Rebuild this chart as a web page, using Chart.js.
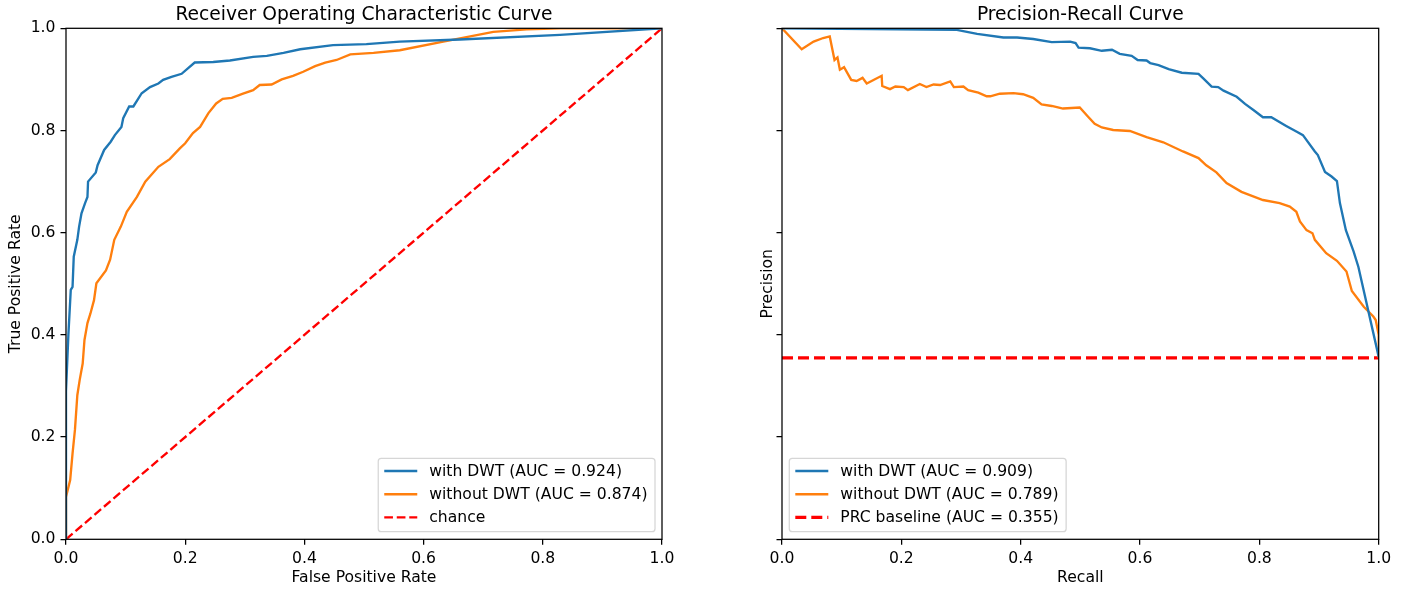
<!DOCTYPE html>
<html>
<head>
<meta charset="utf-8">
<script src="https://cdn.jsdelivr.net/npm/chart.js@4.4.0/dist/chart.umd.min.js"></script>
<style>
  body { margin: 0; background: #fff; }
  canvas { position: absolute; top: 0; }
</style>
</head>
<body>
<canvas id="roc" width="700" height="592" style="left:0"></canvas>
<canvas id="prc" width="707" height="592" style="left:700px"></canvas>
<script>
// ROC curve, with DWT
const rocWithFpr = [0, 0, 0.004, 0.008, 0.011, 0.013, 0.019, 0.022, 0.026, 0.032, 0.036, 0.037, 0.050, 0.053, 0.064, 0.075, 0.082, 0.093, 0.096, 0.106, 0.113, 0.127, 0.141, 0.155, 0.163, 0.177, 0.194, 0.205, 0.216, 0.247, 0.275, 0.314, 0.337, 0.365, 0.393, 0.448, 0.504, 0.560, 0.661, 0.829, 1];
const rocWithTpr = [0, 0.29, 0.40, 0.488, 0.494, 0.553, 0.586, 0.612, 0.638, 0.658, 0.670, 0.700, 0.718, 0.732, 0.762, 0.778, 0.791, 0.807, 0.824, 0.847, 0.847, 0.873, 0.885, 0.892, 0.899, 0.905, 0.911, 0.922, 0.933, 0.934, 0.937, 0.944, 0.946, 0.952, 0.959, 0.967, 0.969, 0.974, 0.978, 0.987, 1];

// ROC curve, without DWT
const rocWithoutFpr = [0, 0, 0.007, 0.011, 0.015, 0.019, 0.023, 0.028, 0.031, 0.036, 0.041, 0.047, 0.051, 0.067, 0.074, 0.081, 0.092, 0.102, 0.119, 0.133, 0.155, 0.174, 0.191, 0.200, 0.213, 0.225, 0.239, 0.252, 0.263, 0.278, 0.297, 0.314, 0.325, 0.345, 0.362, 0.381, 0.398, 0.418, 0.435, 0.454, 0.477, 0.516, 0.560, 0.633, 0.717, 0.773, 0.83, 1];
const rocWithoutTpr = [0, 0.083, 0.116, 0.168, 0.214, 0.282, 0.312, 0.344, 0.390, 0.423, 0.442, 0.468, 0.501, 0.526, 0.547, 0.586, 0.612, 0.641, 0.670, 0.700, 0.729, 0.744, 0.765, 0.775, 0.795, 0.807, 0.834, 0.853, 0.862, 0.864, 0.872, 0.879, 0.889, 0.890, 0.900, 0.907, 0.915, 0.926, 0.933, 0.938, 0.949, 0.952, 0.957, 0.974, 0.993, 0.998, 1, 1];

// PR curve, with DWT
const prWithRecall = [0, 0.293, 0.327, 0.371, 0.394, 0.421, 0.452, 0.483, 0.492, 0.497, 0.516, 0.536, 0.553, 0.566, 0.586, 0.596, 0.611, 0.617, 0.631, 0.648, 0.670, 0.698, 0.706, 0.720, 0.731, 0.740, 0.762, 0.776, 0.790, 0.806, 0.820, 0.845, 0.862, 0.873, 0.893, 0.898, 0.910, 0.921, 0.930, 0.935, 0.945, 0.958, 0.966, 0.971, 1.0];
const prWithPrecision = [1.0, 0.997, 0.989, 0.982, 0.982, 0.979, 0.973, 0.974, 0.971, 0.962, 0.961, 0.956, 0.958, 0.950, 0.946, 0.938, 0.937, 0.932, 0.928, 0.920, 0.913, 0.911, 0.902, 0.886, 0.885, 0.878, 0.866, 0.852, 0.840, 0.826, 0.826, 0.809, 0.798, 0.791, 0.759, 0.752, 0.719, 0.710, 0.701, 0.658, 0.605, 0.563, 0.533, 0.507, 0.357];

// PR curve, without DWT
const prWithoutRecall = [0, 0.033, 0.053, 0.069, 0.080, 0.088, 0.093, 0.097, 0.104, 0.116, 0.125, 0.135, 0.142, 0.167, 0.168, 0.181, 0.190, 0.204, 0.211, 0.231, 0.242, 0.254, 0.265, 0.282, 0.288, 0.304, 0.312, 0.329, 0.343, 0.349, 0.365, 0.388, 0.404, 0.421, 0.435, 0.452, 0.471, 0.499, 0.513, 0.524, 0.536, 0.555, 0.583, 0.611, 0.639, 0.672, 0.698, 0.711, 0.728, 0.745, 0.770, 0.806, 0.834, 0.851, 0.862, 0.868, 0.879, 0.889, 0.893, 0.912, 0.930, 0.946, 0.955, 0.975, 0.991, 0.995, 1.0, 1.0];
const prWithoutPrecision = [1.0, 0.959, 0.974, 0.981, 0.984, 0.938, 0.943, 0.919, 0.924, 0.899, 0.897, 0.903, 0.892, 0.907, 0.887, 0.881, 0.886, 0.885, 0.879, 0.891, 0.885, 0.890, 0.889, 0.896, 0.885, 0.886, 0.879, 0.874, 0.867, 0.867, 0.872, 0.873, 0.871, 0.864, 0.851, 0.848, 0.843, 0.845, 0.827, 0.813, 0.806, 0.801, 0.799, 0.787, 0.777, 0.759, 0.746, 0.732, 0.718, 0.697, 0.680, 0.664, 0.658, 0.651, 0.641, 0.622, 0.605, 0.599, 0.586, 0.560, 0.545, 0.524, 0.486, 0.455, 0.436, 0.429, 0.40, 0.355];

// reference lines
const chanceX = [0, 1];
const chanceY = [0, 1];
const baselineX = [0, 1];
const baselineY = [0.355, 0.355];

const BLUE = '#1f77b4';
const ORANGE = '#ff7f0e';
const RED = '#ff0000';
const FONT = 15.6;

Chart.defaults.font.family = '"DejaVu Sans", sans-serif';
Chart.defaults.font.size = FONT;
Chart.defaults.color = '#000';

const pts = (xs, ys) => xs.map((x, i) => ({ x: x, y: ys[i] }));

const line = (label, xs, ys, color, width, dash) => ({
  label: label,
  data: pts(xs, ys),
  showLine: true,
  borderColor: color,
  backgroundColor: color,
  borderWidth: width,
  borderDash: dash || [],
  pointRadius: 0,
  tension: 0,
  fill: false
});

// box round the plot area, like matplotlib spines
const frame = {
  id: 'frame',
  afterDatasetsDraw(chart) {
    const { ctx, chartArea: a } = chart;
    ctx.save();
    ctx.strokeStyle = '#000';
    ctx.lineWidth = 1.26;
    ctx.strokeRect(a.left, a.top, a.right - a.left, a.bottom - a.top);
    ctx.restore();
  }
};

// title centred over the plot area, not the whole canvas
const plotTitle = {
  id: 'plotTitle',
  afterDraw(chart, args, opts) {
    const { ctx, chartArea: a } = chart;
    ctx.save();
    ctx.font = '18.7px "DejaVu Sans"';
    ctx.fillStyle = '#000';
    ctx.textAlign = 'center';
    ctx.textBaseline = 'alphabetic';
    ctx.fillText(opts.text, (a.left + a.right) / 2, a.top - 8.8);
    ctx.restore();
  }
};

// legend drawn inside the plot area
const boxLegend = {
  id: 'boxLegend',
  afterDraw(chart, args, opts) {
    const { ctx, chartArea: a } = chart;
    const sets = chart.data.datasets;
    ctx.save();
    ctx.font = FONT + 'px "DejaVu Sans"';
    const textW = Math.max(...sets.map(d => ctx.measureText(d.label).width));
    const w = 6 + 33 + 12 + textW + 7.5;
    const h = 73.4;
    const x = opts.side === 'right' ? a.right - 7 - w : a.left + 7.3;
    const y = a.bottom - 7.6 - h;
    ctx.beginPath();
    ctx.roundRect(x, y, w, h, 3);
    ctx.fillStyle = 'rgba(255,255,255,0.8)';
    ctx.fill();
    ctx.strokeStyle = 'rgba(204,204,204,0.8)';
    ctx.lineWidth = 1.26;
    ctx.stroke();
    sets.forEach((d, i) => {
      const cy = y + 12.7 + i * 23.2;
      ctx.beginPath();
      ctx.setLineDash(d.borderDash);
      ctx.strokeStyle = d.borderColor;
      ctx.lineWidth = d.borderWidth;
      ctx.moveTo(x + 6, cy);
      ctx.lineTo(x + 39, cy);
      ctx.stroke();
      ctx.setLineDash([]);
      ctx.fillStyle = '#000';
      ctx.textBaseline = 'middle';
      ctx.fillText(d.label, x + 51, cy + 1);
    });
    ctx.restore();
  }
};

function scales(xTitle, yTitle, yWidth, yTitlePad, showYLabels) {
  const tickGrid = { display: true, drawOnChartArea: false, drawTicks: true, tickLength: 5.5, color: '#000', lineWidth: 1.26 };
  return {
    x: {
      type: 'linear', min: 0, max: 1,
      grid: tickGrid,
      border: { display: false },
      ticks: { stepSize: 0.2, padding: 4.5, maxRotation: 0, autoSkip: false, callback: v => v.toFixed(1) },
      title: { display: true, text: xTitle, padding: { top: 0, bottom: 4.6 } },
      afterFit: s => { s.height = 52.7; s.paddingLeft = 0; s.paddingRight = 0; }
    },
    y: {
      type: 'linear', min: 0, max: 1,
      grid: tickGrid,
      border: { display: false },
      ticks: { stepSize: 0.2, padding: 5, autoSkip: false, callback: v => showYLabels ? v.toFixed(1) : '' },
      title: { display: true, text: yTitle, padding: { top: yTitlePad, bottom: 0 } },
      afterFit: s => { s.width = yWidth; s.paddingTop = 0; s.paddingBottom = 0; }
    }
  };
}

function plugins(title, side) {
  return {
    legend: { display: false },
    tooltip: { enabled: false },
    title: { display: false },
    plotTitle: { text: title },
    boxLegend: { side: side }
  };
}

new Chart(document.getElementById('roc'), {
  type: 'scatter',
  data: {
    datasets: [
      line('with DWT (AUC = 0.924)', rocWithFpr, rocWithTpr, BLUE, 2.35),
      line('without DWT (AUC = 0.874)', rocWithoutFpr, rocWithoutTpr, ORANGE, 2.35),
      line('chance', chanceX, chanceY, RED, 2.35, [8.7, 3.8])
    ]
  },
  options: {
    responsive: false,
    animation: false,
    devicePixelRatio: 1,
    layout: { padding: { left: 0, right: 38, top: 28.3, bottom: 0 } },
    scales: scales('False Positive Rate', 'True Positive Rate', 66, 6.1, true),
    plugins: plugins('Receiver Operating Characteristic Curve', 'right')
  },
  plugins: [frame, plotTitle, boxLegend]
});

new Chart(document.getElementById('prc'), {
  type: 'scatter',
  data: {
    datasets: [
      line('with DWT (AUC = 0.909)', prWithRecall, prWithPrecision, BLUE, 2.35),
      line('without DWT (AUC = 0.789)', prWithoutRecall, prWithoutPrecision, ORANGE, 2.35),
      line('PRC baseline (AUC = 0.355)', baselineX, baselineY, RED, 3.14, [11, 5])
    ]
  },
  options: {
    responsive: false,
    animation: false,
    devicePixelRatio: 1,
    layout: { padding: { left: 0, right: 28.3, top: 28.3, bottom: 0 } },
    scales: scales('Recall', 'Precision', 82, 58.1, false),
    plugins: plugins('Precision-Recall Curve', 'left')
  },
  plugins: [frame, plotTitle, boxLegend]
});
</script>
</body>
</html>
